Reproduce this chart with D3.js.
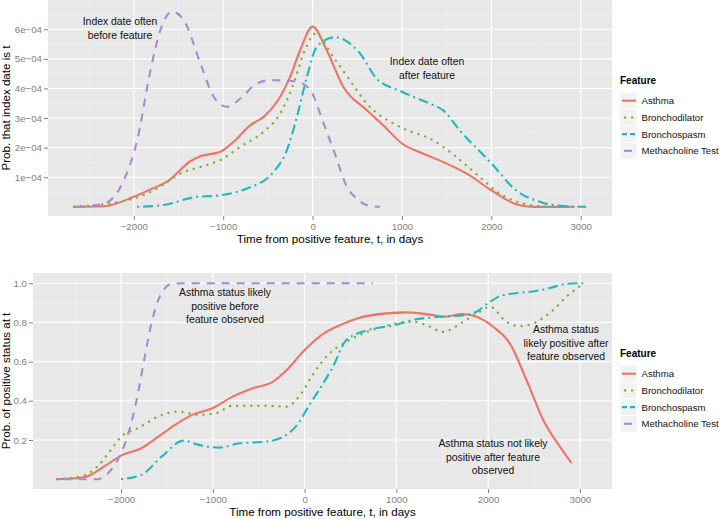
<!DOCTYPE html>
<html><head><meta charset="utf-8">
<script src="https://cdn.jsdelivr.net/npm/d3@7"></script>
<style>body{margin:0;background:#fff}svg{display:block;font-family:"Liberation Sans",Arial,sans-serif}</style>
</head><body><svg id="c" width="721" height="519"></svg>
<script>
const features = ["Asthma","Bronchodilator","Bronchospasm","Methacholine Test"];
const colors = ["#EF7468","#84AE3A","#22B8C0","#A98ACB"];
const dashes = [null,"0.1,7","2,4,10,4","8,7"];
const xTicks = [-2000,-1000,0,1000,2000,3000];
const xMinor = [-2500,-1500,-500,500,1500,2500];
const topYTicks = [1e-4,2e-4,3e-4,4e-4,5e-4,6e-4];
const topYLabels = ["1e\u221204","2e\u221204","3e\u221204","4e\u221204","5e\u221204","6e\u221204"];
const topYMinor = [0.5e-4,1.5e-4,2.5e-4,3.5e-4,4.5e-4,5.5e-4,6.5e-4];
const botYTicks = [0.2,0.4,0.6,0.8,1.0];
const botYLabels = ["0.2","0.4","0.6","0.8","1.0"];
const botYMinor = [0.1,0.3,0.5,0.7,0.9];

// Top panel: density of index date (units of 1e-4)
const asthmaDensity = [[-2670,0],[-2330,0.02],[-2000,0.34],[-1777,0.64],[-1628,0.85],[-1367,1.54],[-1255,1.71],[-1032,1.86],[-883,2.2],[-696,2.76],[-547,3.04],[-398,3.55],[-250,4.4],[-138,5.3],[0,6.09],[157,5.3],[343,4.06],[604,3.27],[790,2.76],[1000,2.14],[1235,1.8],[1496,1.47],[1720,1.13],[2000,0.56],[2276,0.09],[2470,0],[2900,0]];
const bronchodilatorDensity = [[-2670,0],[-2000,0.28],[-1740,0.62],[-1479,1.13],[-1255,1.35],[-1032,1.58],[-808,2.03],[-547,2.54],[-361,3.16],[-212,4.17],[-100,5.19],[30,5.85],[231,5.07],[417,4.28],[604,3.5],[978,2.7],[1347,2.25],[1608,1.69],[1869,1.01],[2093,0.45],[2351,0.11],[2650,0],[2950,0]];
const bronchospasmDensity = [[-1962,0],[-1665,0.06],[-1330,0.32],[-1032,0.39],[-734,0.62],[-436,1.18],[-287,1.92],[-175,3.04],[-63,4.4],[48,5.41],[250,5.73],[529,5.19],[715,4.34],[1000,3.89],[1347,3.44],[1459,3.27],[1645,2.59],[2000,1.47],[2276,0.56],[2575,0.14],[2836,0.02],[3060,0]];
const methacholineDensity = [[-2633,0],[-2335,0.11],[-2112,0.9],[-1962,2.25],[-1813,4.62],[-1702,5.98],[-1572,6.6],[-1441,6.31],[-1255,4.85],[-1106,3.72],[-957,3.38],[-808,3.66],[-622,4.17],[-473,4.28],[-175,4.23],[-26,3.95],[123,2.82],[235,1.92],[384,0.68],[514,0.23],[603,0.06],[752,0]];

// Bottom panel: probability of positive status
const asthmaStatus = [[-2700,0],[-2405,0.01],[-2184,0.065],[-2000,0.12],[-1779,0.158],[-1595,0.217],[-1411,0.277],[-1227,0.328],[-1005,0.362],[-785,0.421],[-564,0.464],[-343,0.498],[-195,0.557],[0,0.659],[210,0.744],[431,0.795],[673,0.832],[1109,0.851],[1400,0.837],[1509,0.829],[1727,0.842],[1873,0.829],[2055,0.778],[2236,0.693],[2418,0.506],[2600,0.302],[2782,0.166],[2909,0.082]];
const bronchodilatorStatus = [[-2700,0],[-2442,0.014],[-2258,0.065],[-2110,0.15],[-2000,0.217],[-1816,0.26],[-1595,0.32],[-1374,0.345],[-1153,0.328],[-969,0.336],[-785,0.375],[-416,0.375],[-195,0.37],[-48,0.43],[99,0.54],[247,0.63],[491,0.71],[855,0.778],[1182,0.803],[1327,0.786],[1509,0.752],[1727,0.803],[1909,0.854],[2018,0.88],[2200,0.803],[2345,0.781],[2491,0.795],[2709,0.863],[2855,0.932],[3036,0.997]];
const bronchospasmStatus = [[-2000,0],[-1779,0.022],[-1558,0.115],[-1319,0.197],[-1153,0.175],[-932,0.161],[-711,0.183],[-416,0.192],[-232,0.217],[-60,0.29],[40,0.37],[164,0.46],[309,0.574],[455,0.71],[673,0.758],[1000,0.788],[1182,0.813],[1400,0.826],[1764,0.838],[1873,0.854],[2000,0.898],[2120,0.932],[2300,0.949],[2491,0.958],[2673,0.975],[2855,0.997],[3036,1.0]];
const methacholineStatus = [[-2626,0],[-2258,0],[-2110,0.048],[-2000,0.132],[-1890,0.285],[-1816,0.438],[-1742,0.625],[-1669,0.795],[-1595,0.914],[-1521,0.975],[-1448,0.997],[-1300,1.0],[745,1.0]];

const svg = d3.select("#c");
svg.append("rect").attr("width",721).attr("height",519).attr("fill","#fff");

function panel(opt){
  const g = svg.append("g");
  const x = d3.scaleLinear().domain([-2960,3350]).range([opt.left,612]);
  const y = d3.scaleLinear().domain(opt.yDomain).range([opt.bottom,opt.top]);
  g.append("rect").attr("x",opt.left).attr("y",opt.top).attr("width",612-opt.left).attr("height",opt.bottom-opt.top).attr("fill","#E8E8E8");
  g.selectAll(".mx").data(xMinor).join("line").attr("x1",x).attr("x2",x).attr("y1",opt.top).attr("y2",opt.bottom).attr("stroke","#F3F3F3").attr("stroke-width",0.6);
  g.selectAll(".my").data(opt.yMinor).join("line").attr("y1",y).attr("y2",y).attr("x1",opt.left).attr("x2",612).attr("stroke","#F3F3F3").attr("stroke-width",0.6);
  g.selectAll(".gx").data(xTicks).join("line").attr("x1",x).attr("x2",x).attr("y1",opt.top).attr("y2",opt.bottom).attr("stroke","#fff").attr("stroke-width",1.1);
  g.selectAll(".gy").data(opt.yTicks).join("line").attr("y1",y).attr("y2",y).attr("x1",opt.left).attr("x2",612).attr("stroke","#fff").attr("stroke-width",1.1);
  const xa = g.append("g").attr("transform",`translate(0,${opt.bottom})`)
    .call(d3.axisBottom(x).tickValues(xTicks).tickFormat(d=>d3.format("d")(d).replace("-","\u2212")).tickSize(4).tickPadding(3));
  const ya = g.append("g").attr("transform",`translate(${opt.left},0)`)
    .call(d3.axisLeft(y).tickValues(opt.yTicks).tickFormat((d,i)=>opt.yLabels[i]).tickSize(4).tickPadding(2));
  [xa,ya].forEach(a=>{
    a.select(".domain").remove();
    a.selectAll(".tick line").attr("stroke","#7F7F7F");
    a.selectAll(".tick text").attr("fill","#7F7F7F").attr("font-size",9.7).attr("font-family","Liberation Sans, Arial, sans-serif");
  });
  const line = d3.line().x(d=>x(d[0])).y(d=>y(d[1]*opt.scale)).curve(d3.curveMonotoneX);
  [0,1,2,3].forEach(i=>{
    const p = g.append("path").datum(opt.series[i]).attr("d",line).attr("fill","none")
      .attr("stroke",colors[i]).attr("stroke-width",2.1).attr("stroke-linecap", i===1?"round":"butt");
    if(dashes[i]) p.attr("stroke-dasharray",dashes[i]);
    if(i===1) p.attr("stroke-width",2.4);
  });
  g.append("text").attr("x",(opt.left+612)/2).attr("y",opt.bottom+27).attr("text-anchor","middle").attr("font-size",11.6).attr("fill","#000").text("Time from positive feature, t, in days");
  g.append("text").attr("transform",`translate(10,${(opt.top+opt.bottom)/2}) rotate(-90)`).attr("text-anchor","middle").attr("font-size",11.6).attr("fill","#000").text(opt.yTitle);
  opt.notes.forEach(n=>{
    const t = g.append("text").attr("text-anchor","middle").attr("font-size",10.4).attr("fill","#111");
    n.lines.forEach((s,k)=>t.append("tspan").attr("x",n.x).attr("y",n.y+k*13.5).text(s));
  });
  const lg = svg.append("g");
  lg.append("text").attr("x",620).attr("y",opt.legTop).attr("font-size",10).attr("font-weight","bold").text("Feature");
  features.forEach((f,i)=>{
    const cy = opt.legTop+16.7*(i+1);
    lg.append("rect").attr("x",620).attr("y",cy-8.3).attr("width",17).attr("height",16.7).attr("fill","#F2F2F2").attr("stroke","#fff").attr("stroke-width",0.8);
    const l = lg.append("line").attr("x1",622).attr("x2",636).attr("y1",cy).attr("y2",cy).attr("stroke",colors[i]).attr("stroke-width",2.1);
    if(dashes[i]) l.attr("stroke-dasharray", i===1?"0.1,7":i===2?"5,3":"8,7").attr("x1", i===1?625:i===3?624:622);
    if(i===1) l.attr("stroke-linecap","round").attr("stroke-width",2.4);
    lg.append("text").attr("x",641.5).attr("y",cy+3.5).attr("font-size",9.6).attr("fill","#111").text(f);
  });
}

panel({left:48, top:0, bottom:216, yDomain:[-0.31e-4,6.99e-4], scale:1e-4,
  yTicks:topYTicks, yLabels:topYLabels, yMinor:topYMinor,
  series:[asthmaDensity,bronchodilatorDensity,bronchospasmDensity,methacholineDensity],
  yTitle:"Prob. that index date is t", legTop:84,
  notes:[{x:120,y:25,lines:["Index date often","before feature"]},{x:427,y:65,lines:["Index date often","after feature"]}]});

panel({left:33, top:273, bottom:489, yDomain:[-0.05,1.052], scale:1,
  yTicks:botYTicks, yLabels:botYLabels, yMinor:botYMinor,
  series:[asthmaStatus,bronchodilatorStatus,bronchospasmStatus,methacholineStatus],
  yTitle:"Prob. of positive status at t", legTop:357,
  notes:[{x:225,y:296,lines:["Asthma status likely","positive before","feature observed"]},
         {x:566,y:333,lines:["Asthma status","likely positive after","feature observed"]},
         {x:493,y:447,lines:["Asthma status not likely","positive after feature","observed"]}]});
</script></body></html>
